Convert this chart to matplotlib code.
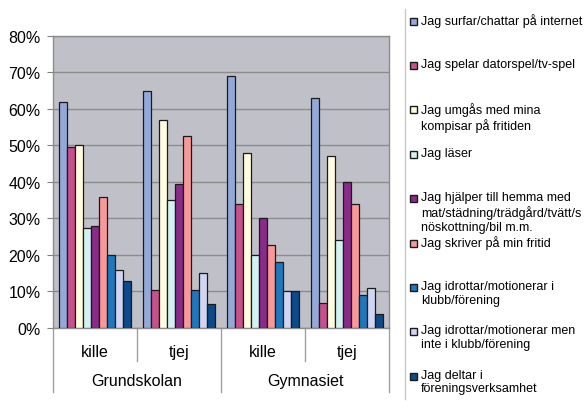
import matplotlib.pyplot as plt
from matplotlib.patches import Rectangle
import numpy as np

plt.rcParams['font.family'] = ['Liberation Sans', 'DejaVu Sans']

groups = ['Grundskolan', 'Gymnasiet']
subgroups = ['kille', 'tjej', 'kille', 'tjej']

labels = [
    'Jag surfar/chattar på internet',
    'Jag spelar datorspel/tv-spel',
    'Jag umgås med mina\nkompisar på fritiden',
    'Jag läser',
    'Jag hjälper till hemma med\nmat/städning/trädgård/tvätt/s\nnöskottning/bil m.m.',
    'Jag skriver på min fritid',
    'Jag idrottar/motionerar i\nklubb/förening',
    'Jag idrottar/motionerar men\ninte i klubb/förening',
    'Jag deltar i\nföreningsverksamhet',
]

# percent per activity, order: Grundskolan kille, Grundskolan tjej, Gymnasiet kille, Gymnasiet tjej
surfar = [62, 65, 69, 63]
spelar = [49.5, 10.4, 34, 6.8]
umgas = [50, 57, 48, 47]
laser = [27.4, 35.2, 20, 24]
hjalper = [27.9, 39.4, 30, 40]
skriver = [36, 52.5, 22.8, 34]
idrott_klubb = [20, 10.4, 18, 9]
idrott_ej_klubb = [15.8, 15, 10, 11]
deltar = [12.8, 6.6, 10, 3.8]

series = [surfar, spelar, umgas, laser, hjalper, skriver, idrott_klubb, idrott_ej_klubb, deltar]
colors = ['#93A9DA', '#C7508D', '#FFFCDF', '#D2F1F1', '#8A2A8B',
          '#F99898', '#1B79C0', '#D1D5F1', '#0B4A8B']

fig = plt.figure(figsize=(5.87, 4.02), dpi=100)
ax = fig.add_axes([0.0903, 0.1816, 0.5724, 0.7264])
ax.set_facecolor('#C0C0C8')

x = np.arange(len(subgroups))
w = 0.0965
for i, (vals, col) in enumerate(zip(series, colors)):
    ax.bar(x + (i - 4) * w, vals, width=w, color=col, edgecolor='#1a1a1a',
           linewidth=0.9, zorder=3)

ax.set_xlim(-0.5, 3.5)
ax.set_ylim(0, 80)
ax.set_yticks(np.arange(0, 81, 10))
ax.set_yticklabels(['%d%%' % v for v in range(0, 81, 10)], fontsize=11.5)
ax.yaxis.grid(True, color='#8c8c8c', linewidth=1.0, zorder=0)
ax.set_axisbelow(True)
ax.tick_params(axis='y', length=4, color='#808080', pad=5)

ax.set_xticks(x)
ax.set_xticklabels([])
ax.tick_params(axis='x', length=0)
for s in ax.spines.values():
    s.set_color('#8c8c8c')
    s.set_linewidth(1.0)

trans = ax.get_xaxis_transform()
for xi, name in zip(x, subgroups):
    ax.text(xi, -0.079, name, transform=trans, ha='center', va='center', fontsize=11.5)
for gi, name in enumerate(groups):
    ax.text(2 * gi + 0.5, -0.18, name, transform=trans, ha='center', va='center', fontsize=11.5)
for xs in [0.5, 2.5]:
    ax.plot([xs, xs], [0, -0.113], transform=trans, color='#a0a0a0', lw=1.0, clip_on=False)
for xs in [-0.5, 1.5, 3.5]:
    ax.plot([xs, xs], [0, -0.22], transform=trans, color='#a0a0a0', lw=1.0, clip_on=False)

# legend drawn by hand: equal slots, marker aligned with first line
W, H = 587.0, 402.0
fig.add_artist(plt.Line2D([405 / W, 405 / W], [1 - 10 / H, 1 - 400 / H],
                          color='#c8c8c8', lw=1.0))
step = 44.4
for i, (lab, col) in enumerate(zip(labels, colors)):
    yc = 22 + i * step
    fig.add_artist(Rectangle(((409.5) / W, 1 - (yc + 3.5) / H), 7 / W, 7 / H,
                             facecolor=col, edgecolor='#1a1a1a', lw=1.0))
    fig.text(421 / W, 1 - (yc - 7.5) / H, lab, fontsize=9, va='top', ha='left',
             linespacing=1.2)

fig.savefig('out.png', dpi=100)
